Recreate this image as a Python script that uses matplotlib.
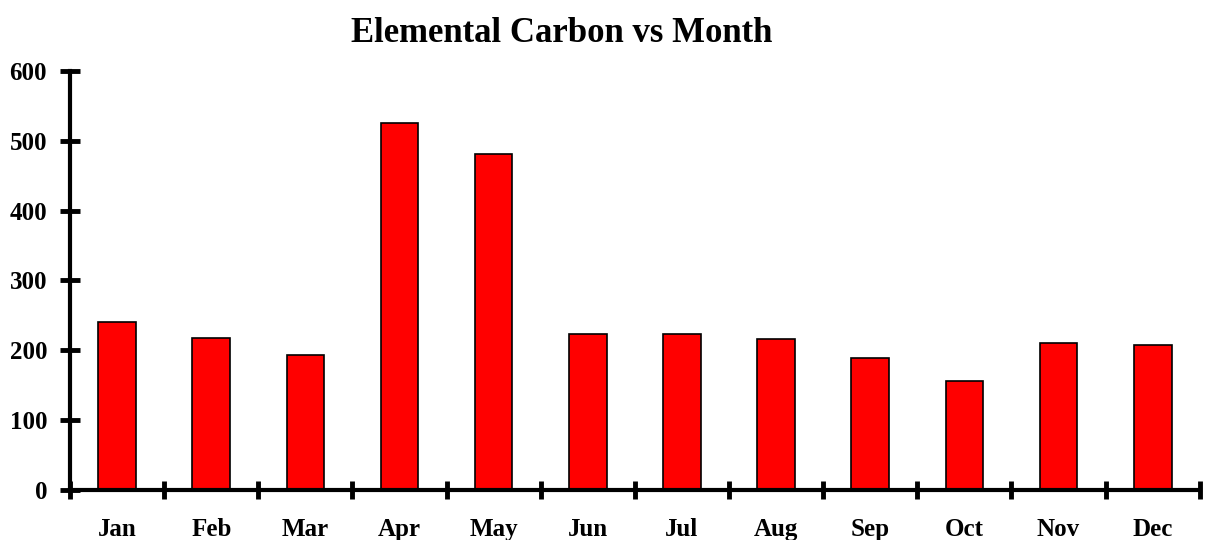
import numpy as np
import matplotlib.pyplot as plt

months = ["Jan", "Feb", "Mar", "Apr", "May", "Jun",
          "Jul", "Aug", "Sep", "Oct", "Nov", "Dec"]
carbon = [240, 218, 193, 526, 481, 223, 223, 216, 189, 156, 211, 207]

plt.rcParams['font.family'] = 'Liberation Serif'
plt.rcParams['font.weight'] = 'bold'

fig = plt.figure(figsize=(12.07, 5.4), dpi=100)
ax = fig.add_axes([0.058, 0.0926, 0.936, 0.776])

x = np.arange(len(months))
ax.bar(x, carbon, width=0.4, color='#ff0000', edgecolor='black', linewidth=1.2, zorder=2)

ax.set_xlim(-0.5, len(months) - 0.5)
ax.set_ylim(0, 600)

# ticks on the category boundaries, labels in the middle
ax.set_xticks(np.arange(-0.5, len(months), 1))
ax.set_xticklabels([])
ax.set_xticks(x, minor=True)
ax.set_xticklabels(months, minor=True, fontsize=18, fontweight='bold')
ax.tick_params(axis='x', which='major', direction='inout', length=13, width=3.5)
ax.tick_params(axis='x', which='minor', length=0, pad=20)

ax.set_yticks(np.arange(0, 601, 100))
ax.tick_params(axis='y', direction='inout', length=15, width=3.5, labelsize=18, pad=9)
for lab in ax.get_yticklabels():
    lab.set_fontweight('bold')

ax.spines['top'].set_visible(False)
ax.spines['right'].set_visible(False)
ax.spines['left'].set_linewidth(3)
ax.spines['bottom'].set_linewidth(3)
ax.spines['left'].set_zorder(3)
ax.spines['bottom'].set_zorder(3)

fig.text(0.4656, 0.922, "Elemental Carbon vs Month", ha='center', va='baseline',
         fontsize=25, fontweight='bold')

fig.savefig("out.png", dpi=100)
